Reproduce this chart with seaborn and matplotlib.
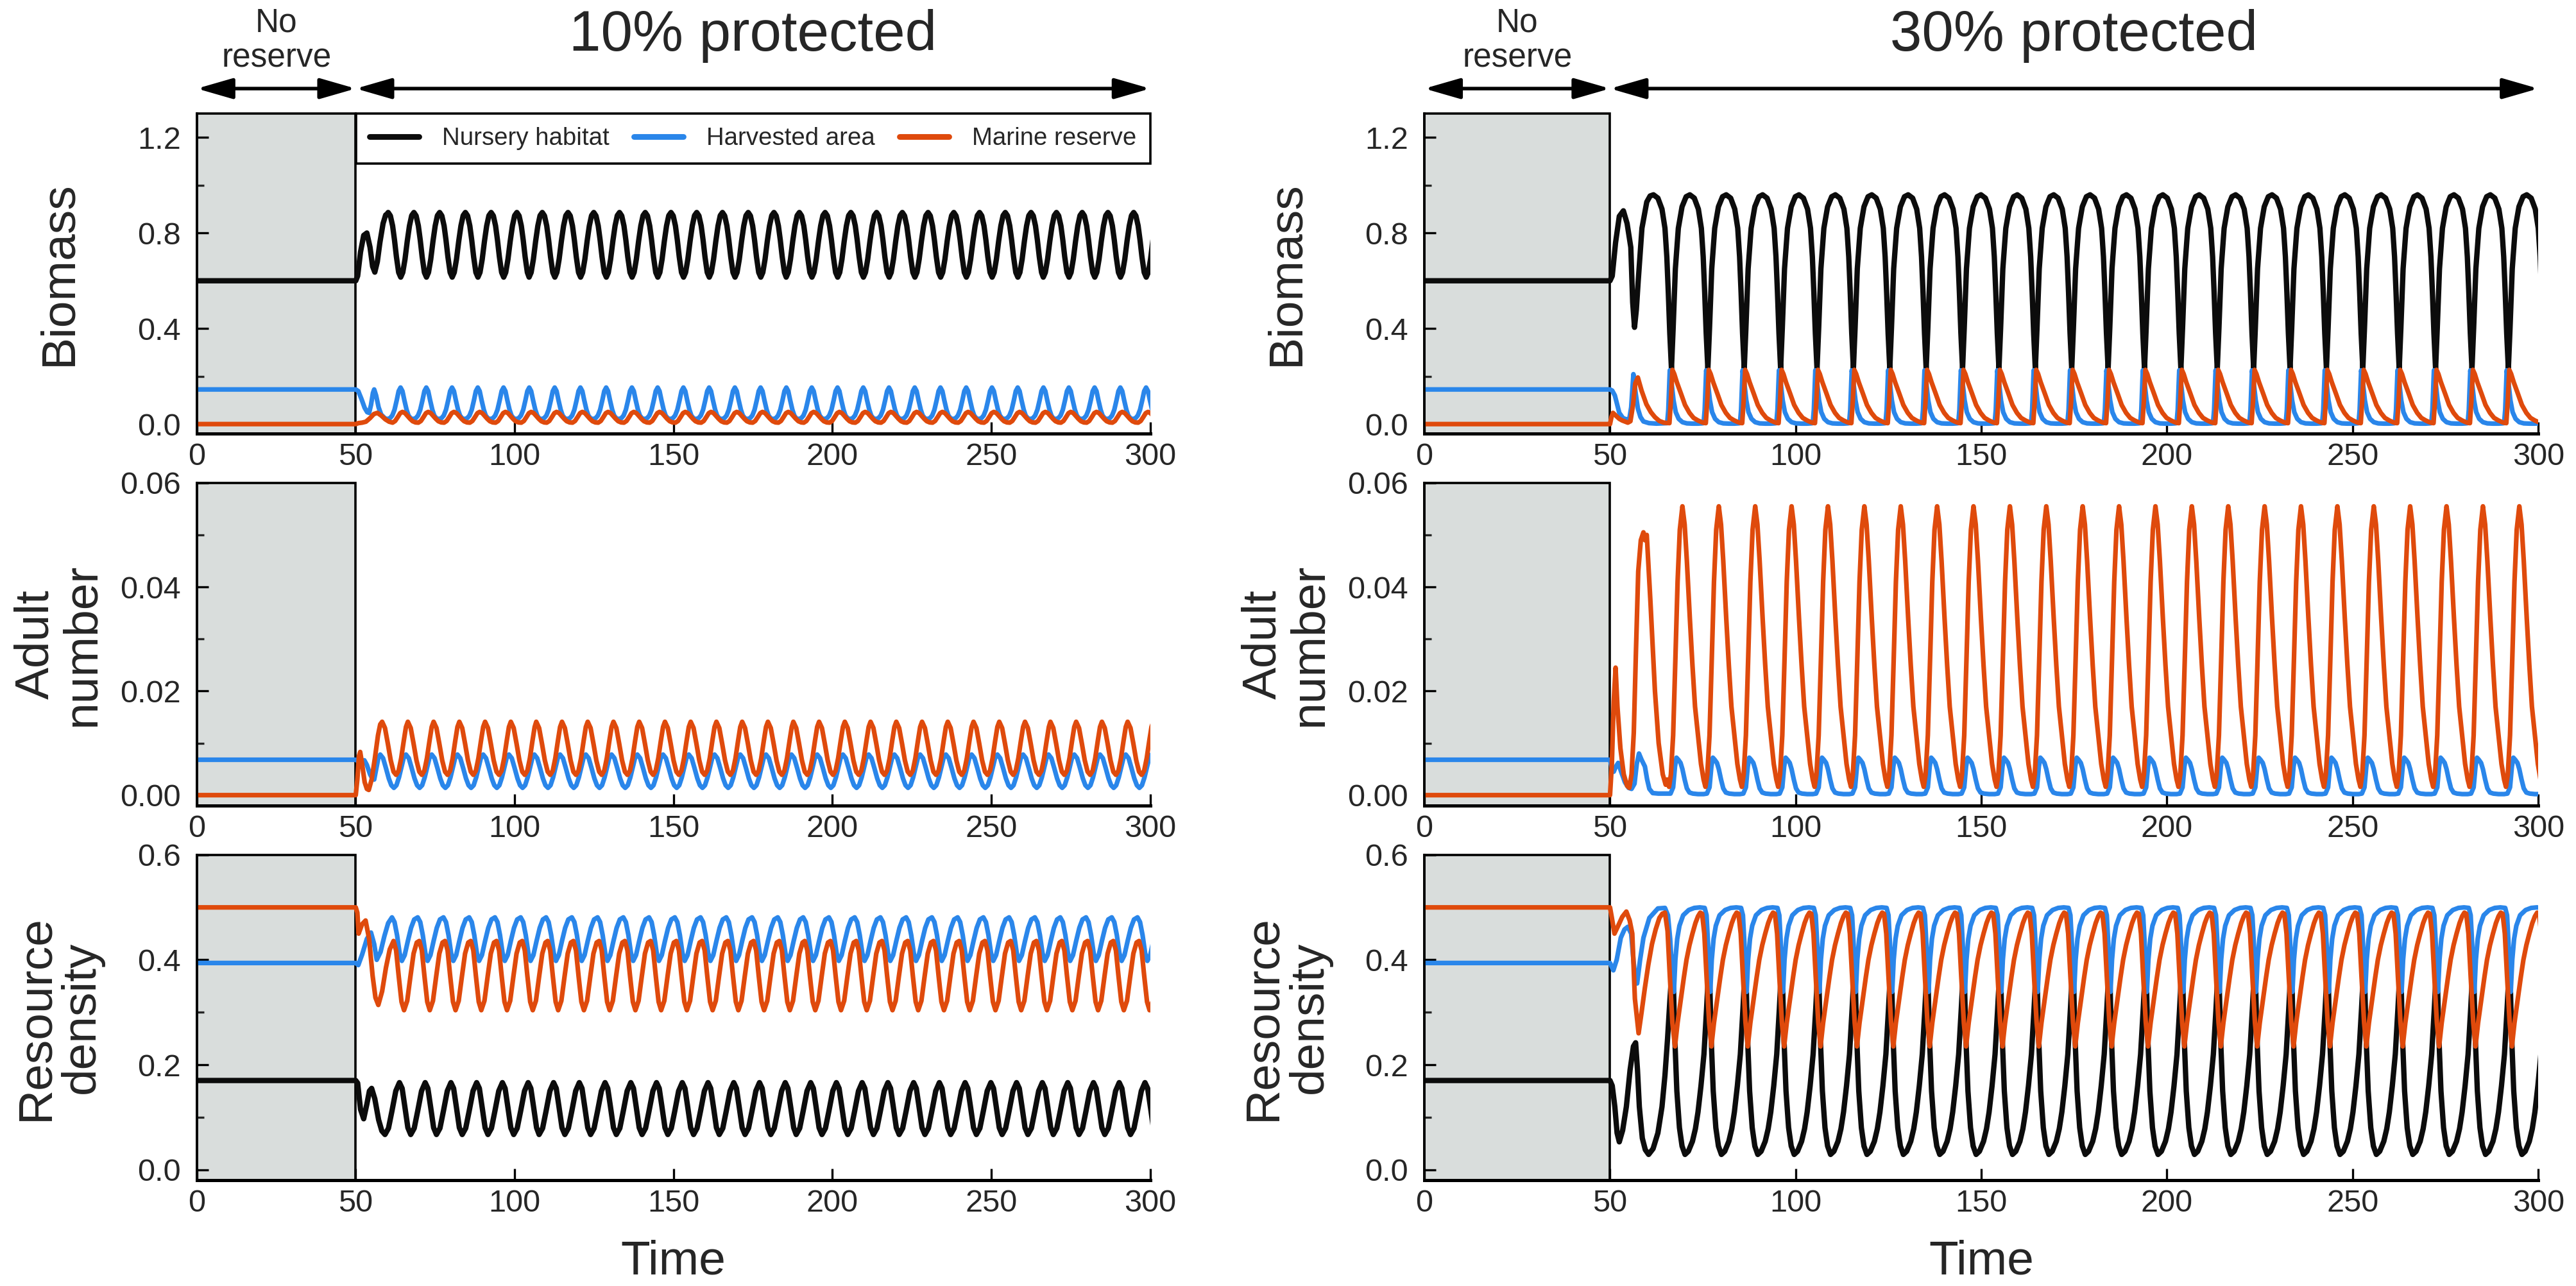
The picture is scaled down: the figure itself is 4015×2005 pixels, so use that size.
import pandas as pd
import matplotlib.pyplot as plt
import matplotlib.ticker as mticker
import seaborn as sns

# ---------------------------------------------------------------
# values
# ---------------------------------------------------------------
names = ['Nursery habitat', 'Harvested area', 'Marine reserve']
colors = {'Nursery habitat': '#0c0c0c', 'Harvested area': '#2a86ea', 'Marine reserve': '#df4a0c'}

# times of the nursery-biomass peaks once the cycles have settled
anchors_10 = [60.2, 68.3, 76.4, 84.5, 92.6, 100.7, 108.7, 116.8, 124.9, 133.0, 141.1,
              149.2, 157.3, 165.4, 173.5, 181.6, 189.6, 197.7, 205.8, 213.9, 222.0,
              230.1, 238.2, 246.3, 254.4, 262.5, 270.5, 278.6, 286.7, 294.8, 302.9]
anchors_30 = [61.7, 71.5, 81.3, 91.1, 100.9, 110.7, 120.5, 130.3, 140.1, 149.9, 159.7,
              169.5, 179.3, 189.1, 198.9, 208.7, 218.5, 228.3, 238.1, 247.9, 257.7,
              267.5, 277.3, 287.1, 296.9, 306.7]

# *_start : (time, value) up to the point where the cycles take over
# *_cycle : (time after anchor, value) for one cycle

# --- 10% protected, biomass
bio10_nursery_start = [(0, 0.60), (50, 0.60), (50.6, 0.62), (51.5, 0.72), (52.5, 0.79), (53.5, 0.80),
                       (54.5, 0.74), (55.3, 0.66), (56.0, 0.636), (56.8, 0.68), (57.6, 0.76),
                       (58.6, 0.84), (59.4, 0.875)]
bio10_nursery_cycle = [(-4.15, 0.615), (-3.5, 0.635), (-2.8, 0.69), (-2.1, 0.765), (-1.4, 0.83),
                       (-0.7, 0.873), (0.0, 0.886), (0.7, 0.872), (1.4, 0.83), (2.0, 0.77),
                       (2.6, 0.70), (3.3, 0.635)]
bio10_harvest_start = [(0, 0.145), (50, 0.145), (50.8, 0.138), (51.8, 0.105), (52.8, 0.068), (53.6, 0.05),
                       (54.2, 0.047), (54.8, 0.08), (55.4, 0.13), (55.8, 0.145), (56.4, 0.12),
                       (57.2, 0.07), (58.0, 0.04)]
bio10_harvest_cycle = [(-1.0, 0.024), (-0.2, 0.021), (0.6, 0.025), (1.3, 0.036), (2.0, 0.06),
                       (2.7, 0.10), (3.3, 0.138), (3.9, 0.153), (4.5, 0.138), (5.1, 0.10),
                       (5.8, 0.06), (6.4, 0.036)]
bio10_reserve_start = [(0, 0.0), (50, 0.0), (50.8, 0.004), (52.0, 0.006), (53.2, 0.010), (54.5, 0.025),
                       (55.7, 0.042), (56.8, 0.047), (58.0, 0.036), (59.3, 0.020), (60.5, 0.010)]
bio10_reserve_cycle = [(1.4, 0.006), (2.2, 0.013), (3.0, 0.029), (3.8, 0.046), (4.5, 0.051),
                       (5.3, 0.046), (6.1, 0.034), (6.9, 0.022), (7.7, 0.012), (8.6, 0.007)]

# --- 10% protected, adult number
adu10_harvest_start = [(0, 0.0068), (50, 0.0068), (51.0, 0.0064), (52.0, 0.0066), (52.7, 0.0067),
                       (53.5, 0.0058), (54.5, 0.0040), (55.3, 0.0031), (55.8, 0.0030),
                       (56.5, 0.0052), (57.1, 0.0071)]
adu10_harvest_cycle = [(-2.5, 0.0078), (-1.6, 0.0071), (-0.7, 0.0052), (0.2, 0.0032), (1.0, 0.0019),
                       (1.8, 0.0014), (2.6, 0.0019), (3.4, 0.0034), (4.2, 0.0054), (4.9, 0.0072)]
adu10_reserve_start = [(0, 0.0), (50, 0.0), (50.5, 0.003), (51.0, 0.0075), (51.4, 0.0083), (52.0, 0.006),
                       (52.8, 0.0025), (53.5, 0.0012), (54.1, 0.0010), (55.0, 0.003), (56.0, 0.007),
                       (57.0, 0.0115), (57.7, 0.0136)]
adu10_reserve_cycle = [(-1.9, 0.0141), (-1.0, 0.0129), (-0.1, 0.0099), (0.8, 0.0067), (1.7, 0.0045),
                       (2.5, 0.0039), (3.3, 0.0047), (4.1, 0.0071), (4.9, 0.0104), (5.6, 0.0131)]

# --- 10% protected, resource density
res10_nursery_start = [(0, 0.170), (50, 0.170), (50.6, 0.165), (51.5, 0.115), (52.5, 0.097), (53.5, 0.125),
                       (54.3, 0.150), (55.0, 0.155), (56.0, 0.135), (57.2, 0.095), (58.2, 0.074)]
res10_nursery_cycle = [(-1.0, 0.067), (0.1, 0.079), (1.2, 0.112), (2.4, 0.150), (3.55, 0.166),
                       (4.4, 0.155), (5.3, 0.118), (6.2, 0.080)]
res10_harvest_start = [(0, 0.394), (50, 0.394), (50.8, 0.390), (52.0, 0.41), (53.5, 0.44), (54.8, 0.452),
                       (55.8, 0.43), (56.6, 0.40), (57.8, 0.415), (59.0, 0.445), (60.2, 0.47)]
res10_harvest_cycle = [(1.2, 0.481), (2.0, 0.472), (2.8, 0.447), (3.6, 0.413), (4.3, 0.398),
                       (5.2, 0.409), (6.2, 0.436), (7.2, 0.461), (8.2, 0.477)]
res10_reserve_start = [(0, 0.5), (50, 0.5), (50.5, 0.49), (50.9, 0.45), (52.0, 0.468), (53.1, 0.475),
                       (54.2, 0.44), (55.3, 0.37), (56.2, 0.328), (57.1, 0.314), (58.3, 0.34),
                       (59.5, 0.385), (60.7, 0.42)]
res10_reserve_cycle = [(1.7, 0.436), (2.5, 0.418), (3.3, 0.37), (4.2, 0.32), (5.0, 0.304),
                       (6.0, 0.322), (7.0, 0.368), (8.0, 0.412), (9.0, 0.433)]

# --- 30% protected, biomass
bio30_nursery_start = [(0, 0.60), (50, 0.60), (50.6, 0.62), (51.5, 0.76), (52.5, 0.87), (53.6, 0.893),
                       (54.6, 0.84), (55.6, 0.74), (56.1, 0.51), (56.6, 0.405), (57.1, 0.48),
                       (57.6, 0.60), (58.6, 0.82), (59.9, 0.93), (60.8, 0.955)]
bio30_nursery_cycle = [(0.0, 0.96), (1.2, 0.946), (2.3, 0.90), (3.1, 0.82), (3.6, 0.70), (4.0, 0.55),
                       (4.4, 0.38), (4.85, 0.23), (5.3, 0.40), (5.9, 0.65), (6.7, 0.82),
                       (7.7, 0.91), (8.8, 0.952)]
bio30_harvest_start = [(0, 0.145), (50, 0.145), (50.6, 0.14), (51.3, 0.12), (52.5, 0.047), (53.5, 0.025),
                       (54.4, 0.02), (55.2, 0.022), (55.7, 0.07), (56.3, 0.209), (56.9, 0.13),
                       (57.5, 0.065), (58.2, 0.03), (59.0, 0.011), (60.5, 0.004), (62.5, 0.002)]
bio30_harvest_cycle = [(3.7, 0.004), (4.0, 0.06), (4.4, 0.225), (4.9, 0.17), (5.4, 0.10), (6.0, 0.05),
                       (6.8, 0.022), (7.8, 0.008), (9.0, 0.003), (10.5, 0.002), (12.0, 0.002),
                       (13.0, 0.003)]
bio30_reserve_start = [(0, 0.0), (50, 0.0), (50.4, 0.03), (50.8, 0.047), (51.6, 0.035), (52.5, 0.022),
                       (53.3, 0.015), (54.8, 0.006), (55.5, 0.012), (56.2, 0.08), (56.8, 0.17),
                       (57.5, 0.195), (58.5, 0.14), (59.8, 0.083), (61.0, 0.05), (62.1, 0.029),
                       (63.3, 0.013), (64.5, 0.006)]
bio30_reserve_cycle = [(4.3, 0.004), (4.7, 0.10), (5.1, 0.227), (5.6, 0.21), (6.3, 0.175), (7.4, 0.128),
                       (8.5, 0.08), (9.7, 0.047), (10.8, 0.026), (12.0, 0.015), (13.0, 0.008),
                       (13.6, 0.005)]

# --- 30% protected, adult number
adu30_harvest_start = [(0, 0.0068), (50, 0.0068), (50.5, 0.0052), (51.0, 0.0045), (51.6, 0.0055),
                       (52.2, 0.0062), (53.0, 0.0045), (54.0, 0.0025), (55.0, 0.0014), (55.8, 0.0012),
                       (56.6, 0.0022), (57.2, 0.0060), (57.8, 0.0080), (58.5, 0.0068), (59.4, 0.0055),
                       (60.0, 0.0030), (60.6, 0.0012), (61.5, 0.0004), (63.0, 0.0003)]
adu30_harvest_cycle = [(4.6, 0.0003), (5.3, 0.0015), (5.8, 0.0055), (6.2, 0.0072), (6.7, 0.0068),
                       (7.3, 0.0062), (7.8, 0.0050), (8.4, 0.0030), (9.0, 0.0013), (9.7, 0.0005),
                       (10.6, 0.0003), (12.0, 0.0002), (13.5, 0.0002)]
adu30_reserve_start = [(0, 0.0), (50, 0.0), (50.5, 0.006), (51.0, 0.018), (51.5, 0.0245), (52.0, 0.017),
                       (52.8, 0.009), (53.7, 0.004), (54.6, 0.0018), (55.2, 0.0014), (55.8, 0.004),
                       (56.4, 0.012), (57.0, 0.028), (57.6, 0.043), (58.3, 0.049), (59.0, 0.0505),
                       (59.4, 0.049), (59.9, 0.050), (60.9, 0.037), (62.1, 0.020), (63.1, 0.010),
                       (64.2, 0.004), (65.0, 0.002)]
adu30_reserve_cycle = [(-2.0, 0.0555), (-1.4, 0.052), (-0.8, 0.045), (0.0, 0.034), (0.7, 0.025),
                       (1.4, 0.017), (2.2, 0.0115), (3.0, 0.006), (3.7, 0.003), (4.2, 0.0016),
                       (4.7, 0.004), (5.3, 0.0115), (5.9, 0.026), (6.5, 0.041), (7.1, 0.051)]

# --- 30% protected, resource density
res30_nursery_start = [(0, 0.170), (50, 0.170), (50.6, 0.16), (51.3, 0.12), (51.9, 0.07), (52.5, 0.053),
                       (53.4, 0.075), (54.4, 0.12), (55.4, 0.19), (56.3, 0.235), (56.9, 0.242),
                       (57.4, 0.19), (57.9, 0.12), (58.7, 0.06), (59.5, 0.038), (60.4, 0.029),
                       (61.6, 0.04), (62.9, 0.07), (64.0, 0.12), (64.8, 0.18), (65.5, 0.25),
                       (66.1, 0.32)]
res30_nursery_cycle = [(5.2, 0.405), (5.7, 0.26), (6.3, 0.15), (7.0, 0.08), (7.7, 0.045), (8.5, 0.029),
                       (9.4, 0.035), (10.5, 0.054), (11.3, 0.078), (12.0, 0.11), (12.8, 0.16),
                       (13.6, 0.22), (14.3, 0.306), (14.7, 0.36)]
res30_harvest_start = [(0, 0.394), (50, 0.394), (50.5, 0.386), (50.9, 0.38), (51.8, 0.40), (52.9, 0.442),
                       (53.9, 0.458), (54.8, 0.463), (55.7, 0.45), (56.3, 0.40), (56.8, 0.365),
                       (57.3, 0.355), (58.1, 0.40), (59.0, 0.442), (60.6, 0.48), (62.9, 0.498),
                       (64.8, 0.499), (65.6, 0.485), (66.2, 0.44), (66.7, 0.38)]
res30_harvest_cycle = [(5.5, 0.339), (5.9, 0.40), (6.4, 0.44), (7.0, 0.465), (8.0, 0.485), (9.5, 0.495),
                       (11.0, 0.499), (12.5, 0.50), (13.8, 0.499), (14.3, 0.485), (14.7, 0.43),
                       (15.0, 0.38)]
res30_reserve_start = [(0, 0.5), (50, 0.5), (50.5, 0.48), (51.2, 0.45), (52.2, 0.465), (53.3, 0.482),
                       (54.4, 0.492), (55.3, 0.475), (56.0, 0.45), (56.7, 0.326), (57.7, 0.26),
                       (58.5, 0.30), (59.4, 0.347), (60.3, 0.39), (61.3, 0.43), (62.3, 0.458),
                       (63.3, 0.48), (64.1, 0.488), (64.8, 0.49), (65.5, 0.455), (66.1, 0.37),
                       (66.8, 0.28)]
res30_reserve_cycle = [(5.8, 0.235), (6.5, 0.28), (7.4, 0.326), (8.2, 0.367), (8.9, 0.40), (9.7, 0.428),
                       (10.5, 0.45), (11.3, 0.47), (12.0, 0.483), (12.6, 0.49), (13.1, 0.488),
                       (13.7, 0.45), (14.3, 0.368), (15.0, 0.28)]

# axis settings per row
ylims = [(-0.04, 1.3), (-0.002, 0.06), (-0.02, 0.6)]
major_ticks = [[0, 0.4, 0.8, 1.2], [0, 0.02, 0.04, 0.06], [0, 0.2, 0.4, 0.6]]
minor_ticks = [[0.2, 0.6, 1.0], [0.01, 0.03, 0.05], [0.1, 0.3, 0.5]]
tick_fmt = ['%.1f', '%.2f', '%.1f']
ylabels = ['Biomass', 'Adult\nnumber', 'Resource\ndensity']
titles = ['10% protected', '30% protected']


def build(start, cycle, anchors):
    t = [p[0] for p in start]
    y = [p[1] for p in start]
    for a in anchors:
        for dt, v in cycle:
            if a + dt > t[-1] and a + dt < 320:
                t.append(a + dt)
                y.append(v)
    return t, y


def panel_frame(series, anchors):
    rows = []
    for name, (start, cycle) in series.items():
        t, y = build(start, cycle, anchors)
        rows.append(pd.DataFrame({'Time': t, 'value': y, 'series': name}))
    return pd.concat(rows, ignore_index=True)


panels = {
    (0, 0): panel_frame({'Nursery habitat': (bio10_nursery_start, bio10_nursery_cycle),
                         'Harvested area': (bio10_harvest_start, bio10_harvest_cycle),
                         'Marine reserve': (bio10_reserve_start, bio10_reserve_cycle)}, anchors_10),
    (1, 0): panel_frame({'Harvested area': (adu10_harvest_start, adu10_harvest_cycle),
                         'Marine reserve': (adu10_reserve_start, adu10_reserve_cycle)}, anchors_10),
    (2, 0): panel_frame({'Nursery habitat': (res10_nursery_start, res10_nursery_cycle),
                         'Harvested area': (res10_harvest_start, res10_harvest_cycle),
                         'Marine reserve': (res10_reserve_start, res10_reserve_cycle)}, anchors_10),
    (0, 1): panel_frame({'Nursery habitat': (bio30_nursery_start, bio30_nursery_cycle),
                         'Harvested area': (bio30_harvest_start, bio30_harvest_cycle),
                         'Marine reserve': (bio30_reserve_start, bio30_reserve_cycle)}, anchors_30),
    (1, 1): panel_frame({'Harvested area': (adu30_harvest_start, adu30_harvest_cycle),
                         'Marine reserve': (adu30_reserve_start, adu30_reserve_cycle)}, anchors_30),
    (2, 1): panel_frame({'Nursery habitat': (res30_nursery_start, res30_nursery_cycle),
                         'Harvested area': (res30_harvest_start, res30_harvest_cycle),
                         'Marine reserve': (res30_reserve_start, res30_reserve_cycle)}, anchors_30),
}

# ---------------------------------------------------------------
# figure
# ---------------------------------------------------------------
sns.set_style('ticks')
plt.rcParams['font.family'] = ['Liberation Sans', 'DejaVu Sans']

fig = plt.figure(figsize=(20.08, 10.025), dpi=200)
col_left = [0.0764, 0.5528]
col_width = [0.3700, 0.4323]
row_bottom = [0.6628, 0.3736, 0.0823]
row_height = [0.2489, 0.2509, 0.2529]
label_x = [-0.1447, -0.1238]

for (r, c), df in panels.items():
    ax = fig.add_axes([col_left[c], row_bottom[r], col_width[c], row_height[r]])
    ax.axvspan(0, 50, facecolor='#d9dddc', edgecolor='black', lw=1.3, zorder=0, clip_on=False)

    order = [n for n in names if n in df['series'].unique()]
    show_leg = (r == 0 and c == 0)
    sns.lineplot(data=df, x='Time', y='value', hue='series', hue_order=order,
                 palette=colors, estimator=None, sort=True, lw=3.0, ax=ax, legend=show_leg)
    for ln in ax.get_lines():
        if ln.get_color() != colors['Nursery habitat']:
            ln.set_linewidth(2.6)

    ax.set_xlim(0, 300)
    ax.set_ylim(*ylims[r])
    ax.set_xticks(range(0, 301, 50))
    ax.set_yticks(major_ticks[r])
    ax.set_yticks(minor_ticks[r], minor=True)
    ax.yaxis.set_major_formatter(mticker.FormatStrFormatter(tick_fmt[r]))
    ax.tick_params(axis='both', which='major', direction='in', length=6.5, width=1.2,
                   labelsize=17.5, color='black')
    ax.tick_params(axis='y', which='major', pad=9)
    ax.tick_params(axis='x', which='major', pad=5)
    ax.tick_params(axis='y', which='minor', direction='in', length=4, width=1.2)

    for side in ['top', 'right']:
        ax.spines[side].set_visible(False)
    ax.spines['left'].set_linewidth(1.3)
    ax.spines['bottom'].set_linewidth(1.8)
    ax.spines['left'].set_color('black')
    ax.spines['bottom'].set_color('black')

    ax.set_ylabel(ylabels[r], fontsize=27, linespacing=1.05)
    ax.yaxis.label.set_va('center')
    ax.yaxis.set_label_coords(label_x[c], 0.5)
    if r == 2:
        ax.set_xlabel('Time', fontsize=27, labelpad=12)
    else:
        ax.set_xlabel('')

    if show_leg:
        old = ax.get_legend()
        handles = old.legend_handles
        labels = [t.get_text() for t in old.texts]
        for h in handles:
            h.set_linewidth(3.2)
        leg = ax.legend(handles, labels, loc='upper right', bbox_to_anchor=(1.0, 1.0),
                        borderaxespad=0, ncol=3, fontsize=13.8, frameon=True, fancybox=False,
                        framealpha=1, edgecolor='black', handlelength=2.0, handletextpad=0.95,
                        columnspacing=1.0, borderpad=0.55)
        leg.get_frame().set_linewidth(1.3)

    if r == 0:
        tr = ax.get_xaxis_transform()
        ax.text(175, 1.196, titles[c], transform=tr, ha='center', va='baseline', fontsize=32)
        ax.text(25, 1.2565, 'No', transform=tr, ha='center', va='baseline', fontsize=18.5)
        ax.text(25, 1.146, 'reserve', transform=tr, ha='center', va='baseline', fontsize=18.5)
        arrow = dict(arrowstyle='<|-|>,head_length=0.85,head_width=0.245', mutation_scale=20,
                     lw=2.0, color='black', shrinkA=0, shrinkB=0)
        ax.annotate('', xy=(0, 1.078), xytext=(50, 1.078), xycoords=tr, textcoords=tr,
                    arrowprops=arrow, annotation_clip=False)
        ax.annotate('', xy=(50, 1.078), xytext=(300, 1.078), xycoords=tr, textcoords=tr,
                    arrowprops=arrow, annotation_clip=False)

fig.savefig('out.png', dpi=200)
